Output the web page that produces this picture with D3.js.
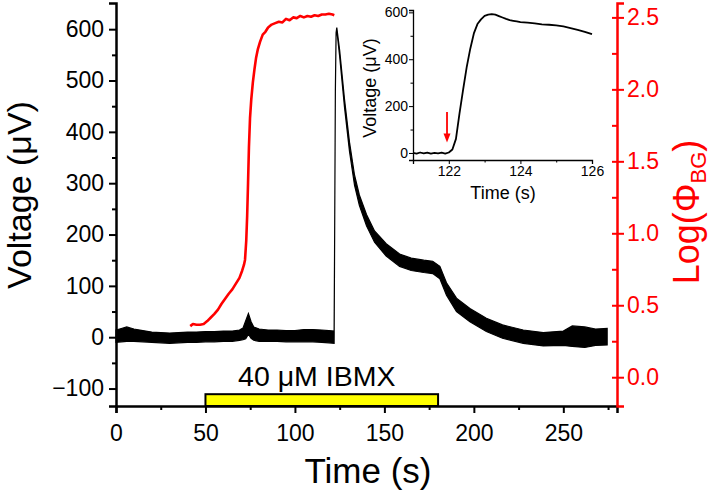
<!DOCTYPE html>
<html><head><meta charset="utf-8">
<script src="https://cdn.jsdelivr.net/npm/d3@7"></script>
<style>
html,body{margin:0;padding:0;background:#fff;}
svg{display:block;font-family:"Liberation Sans",Arial,sans-serif;}
</style></head>
<body><svg id="c" width="712" height="491"></svg>
<script>
// ---- data ----
const xTicks = [0, 50, 100, 150, 200, 250];
const xMinor = [25, 75, 125, 175, 225, 275];
const yLeftTicks = [-100, 0, 100, 200, 300, 400, 500, 600];
const yLeftMinor = [-50, 50, 150, 250, 350, 450, 550];
const yRightTicks = [0.0, 0.5, 1.0, 1.5, 2.0, 2.5];
const yRightMinor = [0.25, 0.75, 1.25, 1.75, 2.25];

// black voltage trace: time, lower and upper envelope of the noisy band (µV)
const blackT  = [0,3,6,10,15,20,25,30,35,40,45,50,55,60,65,69,71,72.5,74,75.5,77,80,85,90,95,100,105,110,115,119,121.9,122.2,122.6,123.0,123.4,125,127.7,130.5,133.3,136,140,144.5,151,158.5,165,172,177,181,184.7,190.3,197.8,207,216,227.6,238.8,250,255,262,268,274.5];
const blackLo = [-10,-9,-8,-8,-9,-10,-11,-12,-11,-10,-10,-9,-9,-8,-8,-6,-5,-3,6,-2,-6,-8,-8,-8,-9,-9,-9,-9,-10,-11,-12,198,478,588,598,547,448,362,296,257,217,185,158,138,130,126,124,114,82,50,30,11,-2,-12,-17,-16,-18,-20,-16,-15];
const blackHi = [14,17,20,16,13,10,9,8,9,10,10,11,11,12,12,14,18,32,46,30,20,16,14,14,13,13,15,15,14,13,12,202,482,593,603,559,464,380,316,277,239,207,182,162,154,150,148,138,106,76,56,37,24,14,9,12,22,20,16,17];

// red background log flux trace
const redT = [41.5,43,45,47,49,51,53,55,57,59,61,63,65,67,69,70.5,71.5,72.1,72.8,73.3,73.8,74.3,74.9,75.6,76.5,77.4,78.3,79.3,80.5,82,83.5,85,87,89,91,93,95,97,99,101,103,105,107,109,111,113,115,117,119,121,122];
const redV = [0.355,0.37,0.365,0.365,0.37,0.39,0.415,0.44,0.47,0.51,0.545,0.58,0.61,0.65,0.69,0.74,0.78,0.815,0.95,1.12,1.35,1.6,1.8,1.93,2.05,2.14,2.22,2.28,2.33,2.38,2.40,2.43,2.45,2.46,2.47,2.465,2.49,2.48,2.50,2.495,2.51,2.50,2.51,2.505,2.515,2.51,2.52,2.52,2.525,2.52,2.515];

// drug application bar
const barStart = 50, barEnd = 180, barLabel = "40 μM IBMX";

// inset trace
const insetT = [121.0,121.1,121.2,121.3,121.4,121.5,121.6,121.7,121.8,121.9,122.0,122.1,122.2,122.3,122.4,122.5,122.6,122.7,122.8,122.9,123.0,123.1,123.2,123.3,123.4,123.5,123.6,123.7,123.8,123.9,124.0,124.2,124.4,124.6,124.8,125.0,125.2,125.4,125.6,125.8,126.0];
const insetV = [0,-3,2,-2,1,-3,0,-2,1,-3,2,15,60,170,270,366,445,510,550,570,585,590,592,590,584,578,572,567,564,561,558,556,553,549,547,544,540,533,525,517,507];
const insetXTicks = [122, 124, 126];
const insetXMinor = [121, 123, 125];
const insetYTicks = [0, 200, 400, 600];
const insetYMinor = [100, 300, 500];
const arrowT = 121.95, arrowFrom = 175, arrowTo = 45;

// ---- drawing ----
const svg = d3.select("#c");
const x = d3.scaleLinear([0, 280], [116, 617]);
const yL = d3.scaleLinear([-134, 651], [406, 3]);
const yR = d3.scaleLinear([-0.2, 2.6], [406, 3]);
const RED = "#ff0000";

// yellow bar
svg.append("rect")
  .attr("x", x(barStart)).attr("y", yL(-111))
  .attr("width", x(barEnd) - x(barStart)).attr("height", yL(-134) - yL(-111))
  .attr("fill", "#ffff00").attr("stroke", "#000").attr("stroke-width", 2);
svg.append("text").attr("x", (x(barStart) + x(barEnd)) / 2 - 5).attr("y", 386)
  .attr("text-anchor", "middle").attr("font-size", 28.5).text(barLabel);

// black band
const blackData = blackT.map((t, i) => ({t, lo: blackLo[i], hi: blackHi[i]}));
svg.append("path").datum(blackData)
  .attr("d", d3.area().x(d => x(d.t)).y0(d => yL(d.lo)).y1(d => yL(d.hi)))
  .attr("fill", "#000").attr("stroke", "#000").attr("stroke-width", 1.2);

// red line
const redData = redT.map((t, i) => ({t, v: redV[i]}));
svg.append("path").datum(redData)
  .attr("d", d3.line().x(d => x(d.t)).y(d => yR(d.v)))
  .attr("fill", "none").attr("stroke", RED).attr("stroke-width", 2.6).attr("stroke-linejoin", "round");

// axes
function styleAxis(g, color, fs, w) {
  g.selectAll("path.domain").attr("stroke", color).attr("stroke-width", w);
  g.selectAll(".tick line").attr("stroke", color).attr("stroke-width", w * 0.8);
  g.selectAll("text").attr("fill", color).attr("font-size", fs).attr("font-family", "Liberation Sans, Arial, sans-serif");
}
const gx = svg.append("g").attr("transform", "translate(0,406)")
  .call(d3.axisBottom(x).tickValues(xTicks).tickFormat(d3.format("d")).tickSize(7).tickPadding(12));
styleAxis(gx, "#000", 23, 2.5);
const gxm = svg.append("g").attr("transform", "translate(0,406)")
  .call(d3.axisBottom(x).tickValues(xMinor).tickFormat("").tickSize(4));
styleAxis(gxm, "#000", 23, 2.5); gxm.select("path.domain").remove();

const gyl = svg.append("g").attr("transform", "translate(116,0)")
  .call(d3.axisLeft(yL).tickValues(yLeftTicks).tickFormat(d3.format("d")).tickSize(7).tickPadding(5));
styleAxis(gyl, "#000", 23, 2.5);
const gylm = svg.append("g").attr("transform", "translate(116,0)")
  .call(d3.axisLeft(yL).tickValues(yLeftMinor).tickFormat("").tickSize(4));
styleAxis(gylm, "#000", 23, 2.5); gylm.select("path.domain").remove();

const gyr = svg.append("g").attr("transform", "translate(617,0)")
  .call(d3.axisRight(yR).tickValues(yRightTicks).tickFormat(d3.format(".1f")).tickSize(7).tickPadding(3));
styleAxis(gyr, RED, 23, 2.5);
const gyri = svg.append("g").attr("transform", "translate(617,0)")
  .call(d3.axisRight(yR).tickValues(yRightTicks.concat(yRightMinor)).tickFormat("").tickSize(-5));
styleAxis(gyri, RED, 23, 2.5); gyri.select("path.domain").remove();

// axis titles
svg.append("text").attr("transform", "translate(31,195) rotate(-90)")
  .attr("text-anchor", "middle").attr("font-size", 34).text("Voltage (μV)");
svg.append("text").attr("x", 368).attr("y", 483)
  .attr("text-anchor", "middle").attr("font-size", 35).text("Time (s)");
const rt = svg.append("text").attr("transform", "translate(699,212) rotate(-90)")
  .attr("text-anchor", "middle").attr("font-size", 36).attr("fill", RED);
rt.append("tspan").text("Log(Φ");
rt.append("tspan").attr("font-size", 22).attr("dy", 7).text("BG");
rt.append("tspan").attr("dy", -7).text(")");

// ---- inset ----
const xi = d3.scaleLinear([121, 126], [413, 592]);
const yi = d3.scaleLinear([-30, 610], [160, 10]);
const ins = svg.append("g");
const insetData = insetT.map((t, i) => ({t, v: insetV[i]}));
ins.append("path").datum(insetData)
  .attr("d", d3.line().x(d => xi(d.t)).y(d => yi(d.v)))
  .attr("fill", "none").attr("stroke", "#000").attr("stroke-width", 1.8).attr("stroke-linejoin", "round");

const gix = ins.append("g").attr("transform", "translate(0,160)")
  .call(d3.axisBottom(xi).tickValues(insetXTicks).tickFormat(d3.format("d")).tickSize(4).tickPadding(2));
styleAxis(gix, "#000", 14, 1.3);
const gixm = ins.append("g").attr("transform", "translate(0,160)")
  .call(d3.axisBottom(xi).tickValues(insetXMinor).tickFormat("").tickSize(2.5));
styleAxis(gixm, "#000", 14, 1.3); gixm.select("path.domain").remove();
const giy = ins.append("g").attr("transform", "translate(413,0)")
  .call(d3.axisLeft(yi).tickValues(insetYTicks).tickFormat(d3.format("d")).tickSize(4).tickPadding(1));
styleAxis(giy, "#000", 14, 1.3);
const giym = ins.append("g").attr("transform", "translate(413,0)")
  .call(d3.axisLeft(yi).tickValues(insetYMinor).tickFormat("").tickSize(2.5));
styleAxis(giym, "#000", 14, 1.3); giym.select("path.domain").remove();

ins.append("text").attr("transform", "translate(376,88) rotate(-90)")
  .attr("text-anchor", "middle").attr("font-size", 18).text("Voltage (μV)");
ins.append("text").attr("x", 503).attr("y", 199)
  .attr("text-anchor", "middle").attr("font-size", 18).text("Time (s)");

// arrow
const ax = xi(arrowT);
ins.append("line").attr("x1", ax).attr("x2", ax).attr("y1", yi(arrowFrom)).attr("y2", yi(arrowTo) - 7)
  .attr("stroke", RED).attr("stroke-width", 1.8);
ins.append("path")
  .attr("d", `M${ax - 3.5},${yi(arrowTo) - 9} L${ax + 3.5},${yi(arrowTo) - 9} L${ax},${yi(arrowTo)} Z`)
  .attr("fill", RED);
</script></body></html>
